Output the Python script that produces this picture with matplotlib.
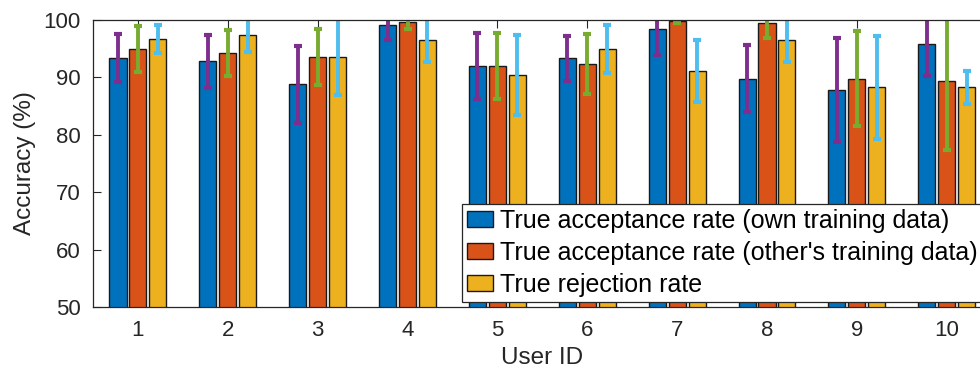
import numpy as np
import matplotlib
matplotlib.use("Agg")
import matplotlib.pyplot as plt

plt.rcParams["font.family"] = ["Liberation Sans", "DejaVu Sans"]

# values
user_ids = [1, 2, 3, 4, 5, 6, 7, 8, 9, 10]
tar_own = [93.4, 92.8, 88.8, 99.1, 92.0, 93.3, 98.5, 89.8, 87.8, 95.8]
tar_own_err = [4.2, 4.6, 6.7, 2.6, 5.7, 4.0, 4.6, 5.9, 9.1, 5.6]
tar_other = [94.9, 94.2, 93.5, 99.7, 92.0, 92.3, 99.9, 99.4, 89.8, 89.4]
tar_other_err = [4.0, 4.0, 4.9, 1.3, 5.7, 5.2, 0.4, 2.5, 8.2, 12.1]
trr = [96.7, 97.4, 93.5, 96.5, 90.4, 94.9, 91.2, 96.5, 88.3, 88.3]
trr_err = [2.5, 2.9, 6.6, 3.8, 7.0, 4.2, 5.4, 3.8, 9.0, 2.9]

labels = [
    "True acceptance rate (own training data)",
    "True acceptance rate (other's training data)",
    "True rejection rate",
]
bar_colors = ["#0072BD", "#D95319", "#EDB120"]
err_colors = ["#7E2F8E", "#77AC30", "#4DBEEE"]

series = [(tar_own, tar_own_err), (tar_other, tar_other_err), (trr, trr_err)]
offsets = [-0.222, 0.0, 0.222]
bar_w = 0.19

fig = plt.figure(figsize=(9.8, 3.74), dpi=100)
ax = fig.add_axes([0.0949, 0.179, 0.917, 0.7675])

x = np.array(user_ids, dtype=float)
handles = []
for (vals, errs), off, bc, ec, lab in zip(series, offsets, bar_colors, err_colors, labels):
    h = ax.bar(x + off, vals, width=bar_w, color=bc, edgecolor="#1a1a1a",
               linewidth=1.0, label=lab, zorder=2)
    handles.append(h)
    ax.errorbar(x + off, vals, yerr=errs, fmt="none", ecolor=ec,
                elinewidth=2.8, capsize=2.6, capthick=3.0, zorder=3)

ax.set_xlim(0.5, 10.5)
ax.set_ylim(50, 100)
ax.set_xticks(user_ids)
ax.set_yticks([50, 60, 70, 80, 90, 100])
ax.tick_params(direction="in", length=6, width=0.8, top=True, right=True,
               labelsize=16, colors="#262626", pad=9)
for s in ax.spines.values():
    s.set_color("#262626")
    s.set_linewidth(0.9)
    s.set_zorder(5)

ax.set_xlabel("User ID", fontsize=17.5, color="#262626", labelpad=5)
ax.set_ylabel("Accuracy (%)", fontsize=17.5, color="#262626", labelpad=5)

leg = ax.legend(handles=handles, loc="upper left",
                bbox_to_anchor=(462 / 980, 1 - 204 / 374),
                bbox_transform=fig.transFigure, borderaxespad=0,
                fontsize=18, frameon=True, fancybox=False,
                handlelength=1.05, handleheight=0.6, handletextpad=0.25,
                labelspacing=0.32, borderpad=0.2)
leg.get_frame().set_edgecolor("#262626")
leg.get_frame().set_linewidth(0.9)
leg.get_frame().set_alpha(1)
leg.set_zorder(10)

fig.savefig("out.png", dpi=100)
